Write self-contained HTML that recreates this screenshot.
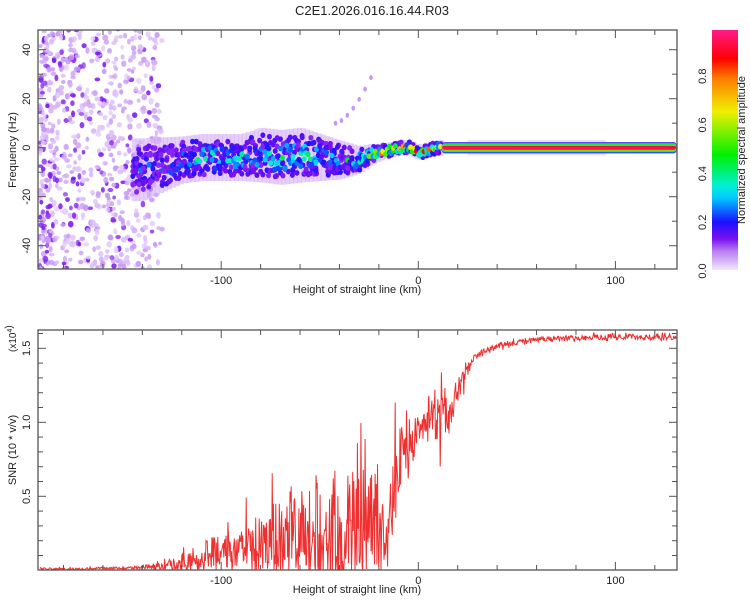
<!DOCTYPE html>
<html><head><meta charset="utf-8"><style>
html,body{margin:0;padding:0;background:#fff;}
svg{display:block;font-family:"Liberation Sans",sans-serif;}
</style></head><body>
<svg id="chart" width="750" height="600" viewBox="0 0 750 600" xmlns="http://www.w3.org/2000/svg">
<text x="372" y="15" font-size="13" text-anchor="middle" fill="#222">C2E1.2026.016.16.44.R03</text>
<defs>
<clipPath id="c1"><rect x="38" y="30" width="639" height="239"/></clipPath>
<clipPath id="c2"><rect x="38" y="330" width="639" height="240"/></clipPath>
<linearGradient id="cmap" x1="0" y1="1" x2="0" y2="0">
<stop offset="0" stop-color="#f3e6ff"/><stop offset="0.08" stop-color="#b77cf0"/><stop offset="0.13" stop-color="#7a10f0"/>
<stop offset="0.2" stop-color="#1a10ff"/><stop offset="0.3" stop-color="#00c8ff"/><stop offset="0.35" stop-color="#00f0d8"/>
<stop offset="0.48" stop-color="#00f000"/><stop offset="0.66" stop-color="#f0f000"/><stop offset="0.8" stop-color="#ff7a00"/>
<stop offset="0.88" stop-color="#ff0000"/><stop offset="1" stop-color="#ff1a8a"/>
</linearGradient>
</defs>
<g id="spec" clip-path="url(#c1)"></g>
<g id="top-axes"></g>
<g id="snr" clip-path="url(#c2)"></g>
<g id="bot-axes"></g>
<rect x="712" y="30" width="26" height="240" fill="url(#cmap)"/>
<g id="cbar-axes"></g>
<text transform="translate(745,150) rotate(-90)" font-size="11" text-anchor="middle" fill="#222">Normalized spectral amplitude</text>
<text transform="translate(16,150) rotate(-90)" font-size="11" text-anchor="middle" fill="#222">Frequency (Hz)</text>
<text x="357" y="293" font-size="11" text-anchor="middle" fill="#222">Height of straight line (km)</text>
<text transform="translate(16,450) rotate(-90)" font-size="11" text-anchor="middle" fill="#222">SNR (10 * v/v)</text>
<text transform="translate(16,352) rotate(-90)" font-size="10" text-anchor="start" fill="#222">(x10<tspan font-size="7" dy="-4">4</tspan>)</text>
<text x="357" y="593" font-size="11" text-anchor="middle" fill="#222">Height of straight line (km)</text>
</svg>
<script>
// ---- data ----
const xTickLabels = [-100, 0, 100];
const fTickLabels = [-40, -20, 0, 20, 40];
const snrTickLabels = [0.5, 1.0, 1.5];
const cbarTickLabels = [0.0, 0.2, 0.4, 0.6, 0.8];
// main spectral line: heights (km), centre freq (Hz), half width (Hz), peak amplitude
const bandHeights = [-140,-130,-120,-110,-100,-90,-80,-70,-60,-50,-40,-30,-25,-20,-15,-10,-5,0,5,10,15,30,60,90,120,130];
const bandCenters = [-9,-7,-5,-4,-4,-4,-3,-4,-3,-4,-5,-5,-3,-2,-1,0,0,-2,-1,0,0,0,0,0,0,0];
const bandWidths  = [8,7,6,6,6,6,7,7,7,6,5,3.5,2.8,2.2,2,2,2,2,2,2,2,2,2,2,2,2];
const bandAmps    = [0.25,0.3,0.38,0.42,0.42,0.42,0.42,0.45,0.45,0.42,0.42,0.5,0.6,0.85,0.8,0.8,0.9,0.85,0.85,0.7,0.95,0.95,0.95,0.95,0.95,0.95];
// SNR envelope (x10^4)
const snrHeights = [-192,-170,-150,-140,-130,-120,-110,-100,-90,-80,-70,-60,-50,-40,-30,-20,-14,-10,-5,0,5,10,15,20,25,30,40,50,60,80,100,130];
const snrMean    = [0.01,0.01,0.015,0.02,0.03,0.05,0.08,0.1,0.13,0.16,0.2,0.25,0.28,0.3,0.33,0.32,0.28,0.75,0.82,0.92,0.98,1.05,1.0,1.22,1.35,1.45,1.52,1.54,1.56,1.57,1.58,1.57];
const snrSpread  = [0.01,0.01,0.01,0.015,0.04,0.08,0.12,0.15,0.18,0.22,0.3,0.38,0.42,0.45,0.45,0.42,0.35,0.3,0.2,0.12,0.18,0.2,0.15,0.08,0.05,0.03,0.02,0.02,0.02,0.02,0.02,0.02];

// ---- axes functions ----
const NS="http://www.w3.org/2000/svg";
const X0=38, X1=677;
const xs = h => 418.3 + (h)*1.971;
const fy = f => 147.7 - f*2.45;
const sy = v => 570.3 - v*148;
const cy = v => 271 - v*243.5;
function mk(tag, attrs, parent){const e=document.createElementNS(NS,tag);for(const k in attrs)e.setAttribute(k,attrs[k]);parent.appendChild(e);return e;}
function interp(xa, ya, x){ if(x<=xa[0])return ya[0]; for(let i=1;i<xa.length;i++){ if(x<=xa[i]){const t=(x-xa[i-1])/(xa[i]-xa[i-1]);return ya[i-1]+t*(ya[i]-ya[i-1]);} } return ya[ya.length-1];}
const stops=[[0,[243,230,255]],[0.08,[183,124,240]],[0.13,[122,16,240]],[0.2,[26,16,255]],[0.3,[0,200,255]],[0.35,[0,240,216]],[0.48,[0,240,0]],[0.66,[240,240,0]],[0.8,[255,122,0]],[0.88,[255,0,0]],[1,[255,26,138]]];
function cmap(v){v=Math.max(0,Math.min(1,v));for(let i=1;i<stops.length;i++){if(v<=stops[i][0]){const a=stops[i-1],b=stops[i];const t=(v-a[0])/(b[0]-a[0]);const c=a[1].map((q,j)=>Math.round(q+t*(b[1][j]-q)));return `rgb(${c})`;}}return 'rgb(255,26,138)';}
let seed=12345; function rnd(){seed=(seed*1103515245+12345)%2147483648;return seed/2147483648;}

// ---- spectrogram ----
const spec=document.getElementById('spec');
// noise texture (left side)
for(let i=0;i<750;i++){
  const h=-192+Math.pow(rnd(),1.4)*62; const f=-50+rnd()*100;
  const fade=Math.max(0,1-(h+192)/62);
  const a=rnd()<0.25*fade+0.05 ? 0.1+rnd()*0.04 : 0.015+rnd()*0.05;
  const e=mk('ellipse',{cx:xs(h),cy:fy(f),rx:1.8+rnd()*1.2,ry:1.8+rnd()*1.6,fill:cmap(a),opacity:0.85},spec);
  
  
}
// faint chirp streak
for(let h=-42;h<-22;h+=3){const f=10+Math.pow((h+42)/20,1.6)*22;const e=mk('ellipse',{cx:xs(h),cy:fy(f),rx:1.8,ry:2.5,fill:cmap(0.06)},spec);
  
  }
// main band haze
for(let h=-145;h<12;h+=2){
  const c=interp(bandHeights,bandCenters,h), w=interp(bandHeights,bandWidths,h);
  const hz=mk('rect',{x:xs(h)-1,y:fy(c+w*1.6),width:5,height:fy(c-w*1.6)-fy(c+w*1.6),fill:cmap(0.04),opacity:0.6},spec);
  
  
}
// main band blobs (background purple first, then brighter)
for(let pass=0;pass<2;pass++){
for(let h=-145;h<12;h+=1){
  const c=interp(bandHeights,bandCenters,h), w=interp(bandHeights,bandWidths,h), a=interp(bandHeights,bandAmps,h);
  const n = pass===0 ? 3 : 2;
  for(let k=0;k<n;k++){
    const spread = pass===0 ? 1.2 : 0.8;
    const f=c+(rnd()-0.5)*2*w*spread;
    let v = pass===0 ? 0.11+rnd()*0.08 : a*(0.35+rnd()*0.8)*(1-Math.abs(f-c)/(w*1.5));
    const e=mk('ellipse',{cx:xs(h)+rnd(),cy:fy(f),rx:2.5,ry:2.8,fill:cmap(Math.max(0.12,v))},spec);
    
    
  }
}}
// continuous band after +12 km
const hStart=12, hEnd=131;
const haze=mk('rect',{x:xs(25),y:fy(3.2),width:xs(95)-xs(25),height:fy(-3.2)-fy(3.2),fill:cmap(0.04),opacity:0.4},spec);


const layers=[[2.3,0.15],[2.0,0.26],[1.7,0.36],[1.4,0.5],[1.1,0.68],[0.85,0.88],[0.5,0.97]];
layers.forEach(([w,v])=>{const c=interp(bandHeights,bandCenters,hStart);
  const r=mk('rect',{x:xs(hStart),y:fy(c+w),width:xs(hEnd)-xs(hStart),height:fy(c-w)-fy(c+w),rx:3,fill:cmap(v)},spec);
  
  });

// ---- axes drawing ----
function frame(g, top, bot, yMinor, yLabels, yfun, labelY, fmt){
  const r=mk('rect',{x:X0,y:top,width:X1-X0,height:bot-top,fill:'none',stroke:'#555','stroke-width':1.3},g);
  
  
  for(let h=-180;h<=130;h+=20){const x=xs(h);
    const len=(h%100===0)?8:5;
    mk('line',{x1:x,y1:bot,x2:x,y2:bot-len,stroke:'#555'},g);
    mk('line',{x1:x,y1:top,x2:x,y2:top+len,stroke:'#555'},g);}
  xTickLabels.forEach(v=>{const t=mk('text',{x:xs(v),y:labelY,'font-size':11,'text-anchor':'middle',fill:'#222'},g);t.textContent=v;
    
    });
  yMinor.forEach(v=>{const y=yfun(v);const len=yLabels.includes(v)?8:5;
    mk('line',{x1:X0,y1:y,x2:X0+len,y2:y,stroke:'#555'},g);mk('line',{x1:X1,y1:y,x2:X1-len,y2:y,stroke:'#555'},g);});
  yLabels.forEach(v=>{const t=mk('text',{transform:`translate(30,${yfun(v)}) rotate(-90)`,'font-size':11,'text-anchor':'middle',fill:'#222'},g);
    t.textContent=fmt(v);
    
    });
}
const fMinor=[];for(let f=-40;f<=40;f+=10)fMinor.push(f);
frame(document.getElementById('top-axes'),30,269,fMinor,fTickLabels,fy,284,v=>String(v));
const sMinor=[];for(let v=1;v<=16;v++)sMinor.push(v/10);
frame(document.getElementById('bot-axes'),330,570,sMinor,snrTickLabels,sy,584,v=>v.toFixed(1));

// colorbar ticks
const cb=document.getElementById('cbar-axes');
cbarTickLabels.forEach(v=>{const t=mk('text',{transform:`translate(706,${cy(v)}) rotate(-90)`,'font-size':11,'text-anchor':'middle',fill:'#222'},cb);t.textContent=v.toFixed(1);
  
  });

// ---- SNR line ----
const snr=document.getElementById('snr');
let d='';
for(let h=-192,i=0;h<=131;h+=0.3,i++){
  const m=interp(snrHeights,snrMean,h), s=interp(snrHeights,snrSpread,h);
  let r=rnd()*2-1; if(rnd()<0.12) r*=1.9;
  const v=Math.max(0.003,m+r*s*(i%2?1:-0.75));
  d+=(i?'L':'M')+xs(h).toFixed(1)+','+sy(v).toFixed(1);
}
const line=mk('path',{d:d,fill:'none',stroke:'#ee3030','stroke-width':1},snr);


</script>
</body></html>
